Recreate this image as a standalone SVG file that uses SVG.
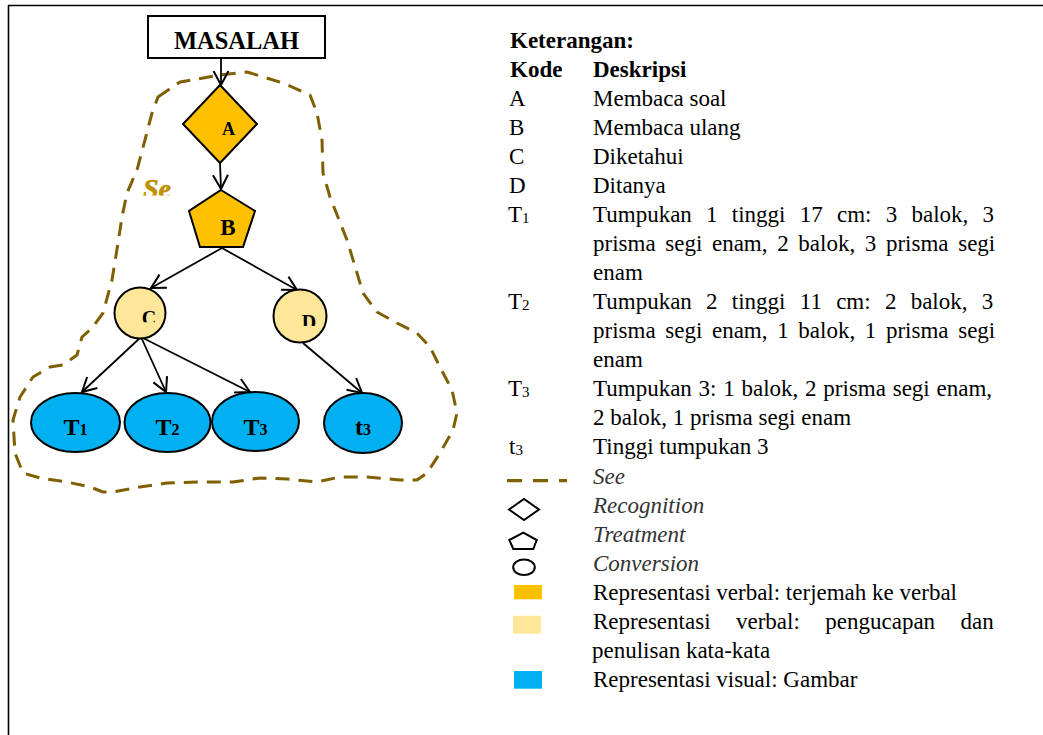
<svg xmlns="http://www.w3.org/2000/svg" width="1043" height="735" viewBox="0 0 1043 735">
  <style>
    .node { stroke: #000; stroke-width: 2; }
    .orange { fill: #FFC000; }
    .light { fill: #FFE699; }
    .blue { fill: #00B0F0; }
    .lbl { font-family: "Liberation Serif", "Times New Roman", serif; font-weight: bold; fill: #000; text-anchor: middle; }
    .txt { font-family: "Liberation Serif", "Times New Roman", serif; font-size: 23px; fill: #000; }
    .b { font-weight: bold; }
    .it { font-style: italic; fill: #333; }
    .conn { stroke: #000; stroke-width: 1.8; fill: none; marker-end: url(#arrow); }
    .see { fill: none; stroke: #7F6000; stroke-width: 3; stroke-dasharray: 14 9; stroke-linejoin: round; }
    .icon { fill: #fff; stroke: #000; stroke-width: 2; }
  </style>
  <defs>
    <marker id="arrow" viewBox="-16 -10 18 20" refX="0" refY="0" markerWidth="18" markerHeight="20" markerUnits="userSpaceOnUse" orient="auto">
      <path d="M-14,-7.5 L0,0 L-14,7.5" fill="none" stroke="#000" stroke-width="2"/>
    </marker>
    <clipPath id="clipSe"><rect x="130" y="170" width="60" height="25.5"/></clipPath>
    <clipPath id="clipC"><rect x="130" y="300" width="40" height="22.3"/></clipPath>
    <clipPath id="clipD"><rect x="290" y="300" width="40" height="26"/></clipPath>
  </defs>

  <rect x="0" y="0" width="1043" height="735" fill="#fff"/>

  <!-- frame -->
  <g id="frame" stroke="#000" stroke-width="1.6">
    <line x1="8" y1="5.5" x2="1043" y2="5.5"/>
    <line x1="8.5" y1="5" x2="8.5" y2="735"/>
  </g>

  <!-- dashed "See" boundary -->
  <g id="see-boundary">
    <path class="see" d="M158,97 L180,82 L220,75 L247,72 L283,83 L310,95 L317,113 L322,140 L323,173 L330,197 L347,240 L357,273 L363,293 L377,312 L397,323 L417,333 L430,347 L440,367 L452,390 L457,413 L453,430 L440,453 L427,473 L417,480 L400,480 L367,477 L340,477 L317,482 L287,479 L260,478 L233,482 L200,482 L167,483 L140,487 L113,492 L103,492 L90,487 L67,482 L40,478 L23,473 L15,453 L13,420 L20,397 L33,377 L50,367 L63,365 L77,355 L82,337 L92,328 L103,313 L112,280 L118,243 L122,217 L127,193 L137,170 L145,140 L152,113 Z"/>
    <text clip-path="url(#clipSe)" x="143" y="198" font-family="Liberation Serif, serif" font-size="28" font-weight="bold" font-style="italic" fill="#BF9000" stroke="#BF9000" stroke-width="0.6">Se</text>
  </g>

  <!-- connectors -->
  <g id="connectors">
    <line class="conn" x1="221" y1="58" x2="221" y2="85"/>
    <line class="conn" x1="220" y1="163" x2="221" y2="189"/>
    <line class="conn" x1="222" y1="248" x2="151" y2="288"/>
    <line class="conn" x1="222" y1="248" x2="297" y2="290"/>
    <line class="conn" x1="141" y1="337" x2="82" y2="392"/>
    <line class="conn" x1="141" y1="337" x2="166" y2="392"/>
    <line class="conn" x1="141" y1="337" x2="250" y2="392"/>
    <line class="conn" x1="303" y1="343" x2="362" y2="393"/>
  </g>

  <!-- nodes -->
  <g id="node-masalah">
    <rect x="148" y="16" width="177" height="42" fill="#fff" class="node"/>
    <text class="lbl" x="236.5" y="49" font-size="24.5">MASALAH</text>
  </g>
  <g id="node-A">
    <polygon class="node orange" points="220,85 257,124 220,163 183,124"/>
    <text class="lbl" x="228.5" y="135" font-size="18">A</text>
  </g>
  <g id="node-B">
    <polygon class="node orange" points="221,190 255,211 243,247 200,247 189,211"/>
    <text class="lbl" x="228" y="235" font-size="23">B</text>
  </g>
  <g id="node-C">
    <circle class="node light" cx="140" cy="313" r="25.5"/>
    <text class="lbl" clip-path="url(#clipC)" x="149" y="324.5" font-size="20">C</text>
  </g>
  <g id="node-D">
    <circle class="node light" cx="300" cy="316" r="26.5"/>
    <text class="lbl" clip-path="url(#clipD)" x="309" y="328.5" font-size="20">D</text>
  </g>
  <g id="node-T1">
    <ellipse class="node blue" cx="75.5" cy="422.5" rx="44.5" ry="29.5"/>
    <text class="lbl" x="75.5" y="434.5" font-size="24">T<tspan font-size="16">1</tspan></text>
  </g>
  <g id="node-T2">
    <ellipse class="node blue" cx="167.5" cy="422.5" rx="43" ry="29.5"/>
    <text class="lbl" x="167.5" y="434.5" font-size="24">T<tspan font-size="16">2</tspan></text>
  </g>
  <g id="node-T3">
    <ellipse class="node blue" cx="255.5" cy="421.5" rx="43.5" ry="29.5"/>
    <text class="lbl" x="255.5" y="434.5" font-size="24">T<tspan font-size="16">3</tspan></text>
  </g>
  <g id="node-t3">
    <ellipse class="node blue" cx="363" cy="423" rx="39" ry="30"/>
    <text class="lbl" x="363" y="435" font-size="24">t<tspan font-size="16">3</tspan></text>
  </g>

  <!-- legend -->
  <g id="legend">
    <text class="txt b" x="510" y="48">Keterangan:</text>
    <text class="txt b" x="510" y="77">Kode</text>
    <text class="txt b" x="593" y="77">Deskripsi</text>

    <text class="txt" x="509" y="106">A</text>
    <text class="txt" x="593" y="106">Membaca soal</text>
    <text class="txt" x="509" y="135">B</text>
    <text class="txt" x="593" y="135">Membaca ulang</text>
    <text class="txt" x="509" y="164">C</text>
    <text class="txt" x="593" y="164">Diketahui</text>
    <text class="txt" x="509" y="193">D</text>
    <text class="txt" x="593" y="193">Ditanya</text>

    <text class="txt" x="508" y="222">T<tspan font-size="15" dy="1">1</tspan></text>
    <text class="txt" x="593" y="222" word-spacing="8.5">Tumpukan 1 tinggi 17 cm: 3 balok, 3</text>
    <text class="txt" x="593" y="251" word-spacing="3.9">prisma segi enam, 2 balok, 3 prisma segi</text>
    <text class="txt" x="593" y="280">enam</text>

    <text class="txt" x="508" y="309">T<tspan font-size="15" dy="1">2</tspan></text>
    <text class="txt" x="593" y="309" word-spacing="8.5">Tumpukan 2 tinggi 11 cm: 2 balok, 3</text>
    <text class="txt" x="593" y="338" word-spacing="3.9">prisma segi enam, 1 balok, 1 prisma segi</text>
    <text class="txt" x="593" y="367">enam</text>

    <text class="txt" x="508" y="396">T<tspan font-size="15" dy="1">3</tspan></text>
    <text class="txt" x="593" y="396" word-spacing="1">Tumpukan 3: 1 balok, 2 prisma segi enam,</text>
    <text class="txt" x="593" y="425">2 balok, 1 prisma segi enam</text>

    <text class="txt" x="509" y="454">t<tspan font-size="15" dy="1">3</tspan></text>
    <text class="txt" x="593" y="454">Tinggi tumpukan 3</text>

    <line x1="507" y1="480.7" x2="567" y2="480.7" stroke="#7F6000" stroke-width="3.3" stroke-dasharray="15 11"/>
    <text class="txt it" x="593" y="484">See</text>

    <polygon class="icon" points="509,509.5 524,499 539,509.5 524,520"/>
    <text class="txt it" x="593" y="513">Recognition</text>

    <polygon class="icon" points="523.3,532.7 536.7,540 533.3,549 513.3,549 509.3,540"/>
    <text class="txt it" x="593" y="542">Treatment</text>

    <ellipse class="icon" cx="524" cy="567.3" rx="10.8" ry="7.8"/>
    <text class="txt it" x="593" y="571">Conversion</text>

    <rect class="orange" x="514" y="585" width="28" height="14.3"/>
    <text class="txt" x="593" y="600">Representasi verbal: terjemah ke verbal</text>

    <rect class="light" x="513" y="615.7" width="28" height="18"/>
    <text class="txt" x="593" y="629" word-spacing="19.7">Representasi verbal: pengucapan dan</text>
    <text class="txt" x="592" y="658">penulisan kata-kata</text>

    <rect class="blue" x="514" y="671" width="28" height="17.7"/>
    <text class="txt" x="593" y="687">Representasi visual: Gambar</text>
  </g>
</svg>
